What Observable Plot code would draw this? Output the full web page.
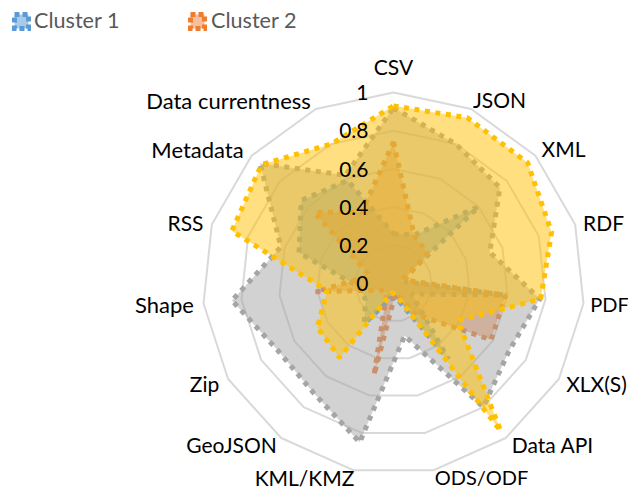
<!DOCTYPE html>
<html><head><meta charset="utf-8">
<script src="https://cdn.jsdelivr.net/npm/d3@7"></script>
<script src="https://cdn.jsdelivr.net/npm/@observablehq/plot@0.6"></script>
<style>
html,body{margin:0;padding:0;background:#fff;overflow:hidden}
#wrap{position:relative;width:628px;height:491px}
#legend{position:absolute;left:0;top:0;font:21.6px Lato,"Open Sans",sans-serif;color:#595959}
#legend span{position:absolute;top:8px;line-height:24px;white-space:nowrap}
#legend svg{position:absolute;top:12px}
#chart{position:absolute;left:0;top:0}
</style></head><body>
<div id="wrap"><div id="chart"></div>
<div id="legend">
<svg style="left:12px" width="19" height="19"><rect x="2.5" y="2.5" width="14" height="14" fill="#a9cbe9" stroke="#5b9bd5" stroke-width="5" stroke-dasharray="5 3"/></svg><span style="left:34px">Cluster 1</span>
<svg style="left:188px" width="19" height="19"><rect x="2.5" y="2.5" width="14" height="14" fill="#f7bf9d" stroke="#ed7d31" stroke-width="5" stroke-dasharray="5 3"/></svg><span style="left:211px">Cluster 2</span>
</div></div>
<script>
const categories = ["CSV","JSON","XML","RDF","PDF","XLX(S)","Data API","ODS/ODF","KML/KMZ","GeoJSON","Zip","Shape","RSS","Metadata","Data currentness"];
const cluster1 = [0.26,0.28,0.60,0.04,0.58,0.11,0.49,0.08,0.08,0.26,0.17,0.18,0.52,0.65,0.59];
const cluster2 = [0.74,0.27,0.24,0.06,0.59,0.59,0.20,0.05,0.49,0.06,0.07,0.41,0.13,0.556,0.41];
const cluster3 = [0.92,0.80,0.75,0.53,0.77,0.70,0.80,0.28,0.85,0.71,0.70,0.85,0.62,0.94,0.62];
const cluster4 = [0.93,0.95,0.945,0.87,0.775,0.39,0.955,0.06,0.05,0.48,0.46,0.35,0.89,0.93,0.80];
const levels = [0.2,0.4,0.6,0.8,1];
const tickValues = [0,0.2,0.4,0.6,0.8,1];
const tickLabels = ["0","0.2","0.4","0.6","0.8","1"];
const labelX = [393,499,563,603,609,596,552,481,304,231,204,164,185,197,228];
const labelY = [67,100,149,223,304,384,445,477,478,445,384,304,223,149,100];

const W = 628, H = 491, CX = 393, CY = 283, R = 191;
const n = categories.length;
const ang = i => i*2*Math.PI/n;
const px = d => d.v*Math.sin(ang(d.i));
const py = d => d.v*Math.cos(ang(d.i));
const ring = (vals,name) => vals.map((v,i)=>({i,v,name}));
const labelSize = d => /[a-z]{4}/.test(d) ? 22 : /ODS|PDF/.test(d) ? 20 : 21;

const gridData = levels.flatMap(l => ring(categories.map(()=>l),String(l)));
const series = [
  {name:"Cluster 1",vals:cluster1,color:"#5b9bd5"},
  {name:"Cluster 2",vals:cluster2,color:"#ed7d31"},
  {name:"Cluster 3",vals:cluster3,color:"#a5a5a5"},
  {name:"Cluster 4",vals:cluster4,color:"#ffc000"}
];
const chart = Plot.plot({
  width:W,height:H,margin:0,
  x:{domain:[(0-CX)/R,(W-CX)/R],range:[0,W],axis:null},
  y:{domain:[(CY-H)/R,CY/R],range:[H,0],axis:null},
  style:{fontFamily:'Lato,"Open Sans",sans-serif',background:"transparent"},
  marks:[
    Plot.line(gridData,{x:px,y:py,z:"name",stroke:"#d9d9d9",strokeWidth:2,curve:"linear-closed"}),
    ...series.map(s=>Plot.line(ring(s.vals,s.name),{x:px,y:py,fill:s.color,fillOpacity:0.5,stroke:s.color,strokeWidth:5,strokeDasharray:"5 5.6",strokeLinecap:"butt",strokeLinejoin:"miter",curve:"linear-closed"})),
    Plot.text(tickValues,{x:()=>0,y:d=>d,text:(d,i)=>tickLabels[i],dx:-25,dy:1,textAnchor:"end",fontSize:21,fill:"#000"}),
    ...categories.map((c,i)=>Plot.text([c],{x:()=>(labelX[i]-CX)/R,y:()=>(CY-labelY[i])/R,text:d=>d,dy:1,fontSize:labelSize(c),fill:"#000"}))
  ]
});
document.getElementById("chart").append(chart);
</script>
</body></html>
